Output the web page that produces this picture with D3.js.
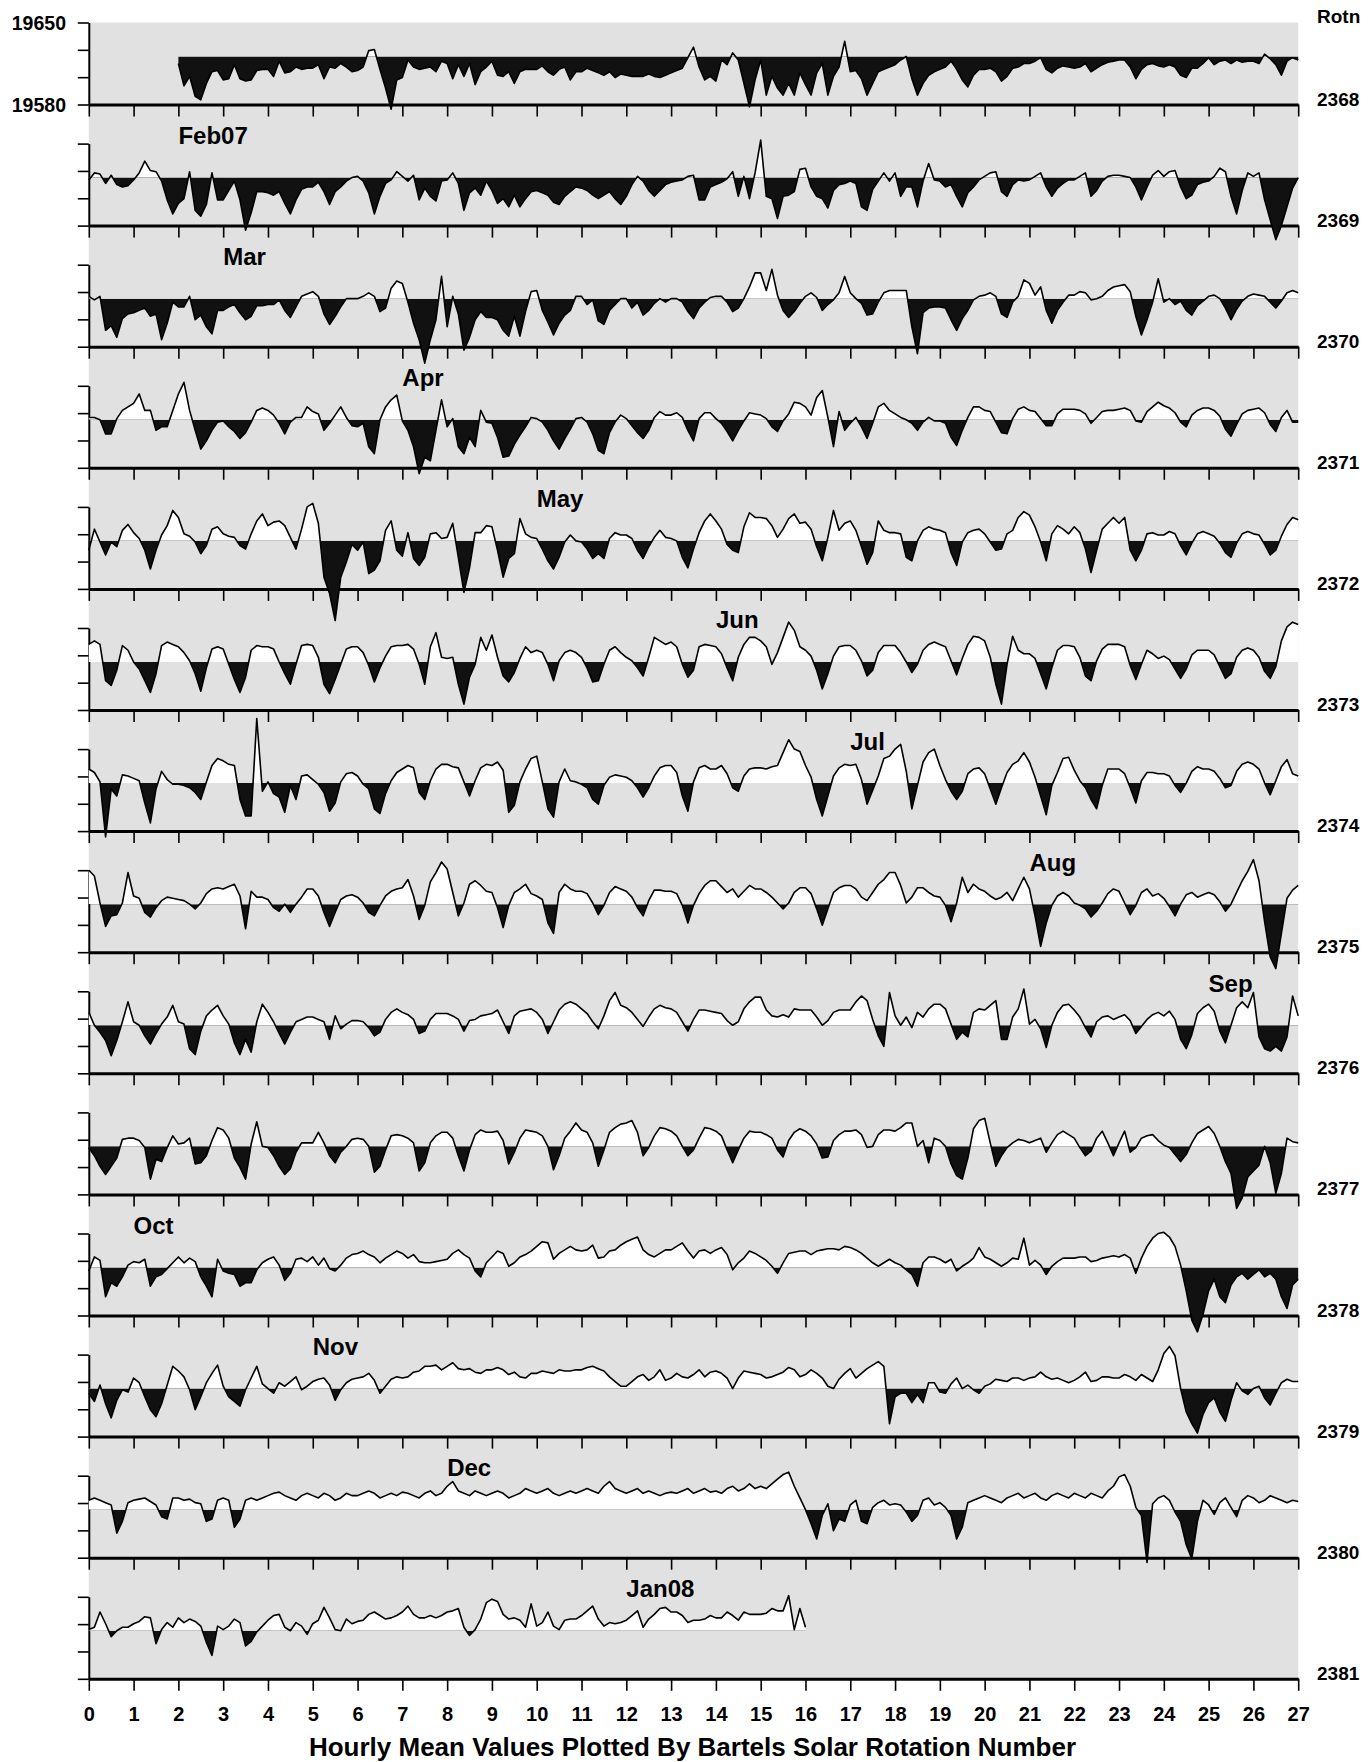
<!DOCTYPE html>
<html>
<head>
<meta charset="utf-8">
<script src="https://cdn.jsdelivr.net/npm/d3@7"></script>
<style>
  body { margin: 0; background: #fff; }
  svg { display: block; }
  text { font-family: "Liberation Sans", Arial, Helvetica, sans-serif; font-weight: bold; fill: #000; }
</style>
</head>
<body>
<svg id="chart" width="1369" height="1762"></svg>
<script>
// hourly H values, read every 3 hours (8 per day), stored as nT above the 19621 reference level
const BASE = 19621;

const rot2368 = [null,null,null,null,null,null,null,null, null,null,null,null,null,null,null,null,
  -6,-25,-17,-34,-37,-23,-13,-12, -20,-19,-7,-19,-21,-20,-12,-11, -11,-17,-4,-14,-13,-9,-11,-10,
  -10,-7,-19,-9,-10,-6,-9,-13, -12,-9,5,6,-11,-27,-45,-20, -18,-3,-9,-11,-10,-9,-13,-4,
  -6,-19,-7,-17,-6,-24,-13,-9, -4,-16,-17,-13,-23,-13,-11,-11, -11,-8,-13,-16,-11,-9,-20,-13,
  -13,-10,-12,-14,-16,-13,-18,-15, -16,-17,-17,-17,-15,-17,-18,-16, -14,-12,-10,-1,8,-9,-20,-17,
  -21,-3,-7,3,-3,-23,-43,-20, -3,-33,-17,-27,-33,-23,-33,-14, -24,-33,-14,-6,-33,-17,-9,13,
  -13,-12,-19,-33,-23,-13,-11,-9, -7,-3,0,-19,-33,-23,-16,-13, -11,-9,-4,-11,-20,-26,-16,-11,
  -11,-10,-13,-21,-17,-10,-9,-6, -6,-4,-1,-11,-14,-10,-8,-9, -10,-9,-6,-13,-10,-7,-5,-4,
  -3,-3,-9,-19,-11,-7,-6,-8, -9,-7,-9,-16,-18,-10,-10,-6, -1,-7,-4,-3,-6,-3,-5,-4,
  -4,-6,2,-2,-7,-16,-4,-1, -3];

const rot2369 = [-2,4,3,-5,2,-6,-8,-7, -2,4,14,6,5,-3,-19,-31, -22,-18,5,-28,-33,-23,4,-19,
  -19,-11,-3,-19,-45,-30,-12,-12, -13,-15,-12,-22,-31,-19,-10,-8, -8,-4,-12,-23,-12,-8,-3,0,
  1,-3,-13,-31,-16,-5,-2,5, 1,-3,2,-19,-9,-16,-20,-3, -2,4,-5,-28,-13,-9,-15,-3,
  -11,-22,-18,-25,-15,-25,-18,-12, -11,-13,-15,-21,-23,-16,-12,-8, -9,-11,-15,-18,-15,-12,-18,-23,
  -16,-6,1,-3,-11,-16,-11,-6, -4,-3,-2,1,2,-19,-19,-8, -6,-4,-1,5,-16,1,-18,4,
  32,-16,-18,-35,-16,-15,-12,7, 8,-8,-16,-18,-26,-11,-6,-5, -3,-5,-25,-28,-10,-3,4,-3,
  4,-16,-8,-8,-25,-3,12,-2, -3,-8,-6,-16,-25,-13,-8,-2, 1,4,5,-12,-16,-6,-2,-3,
  -2,1,4,-8,-16,-9,-5,-2, -2,1,4,-16,-11,-3,1,2, 2,1,0,-8,-19,-8,2,6,
  1,5,6,-8,-18,-15,-6,-4, -3,1,8,5,-16,-31,-11,4, 1,4,-19,-36,-53,-41,-25,-9, 0];

const rot2370 = [2,-1,2,-27,-23,-33,-17,-13, -12,-10,-8,-15,-13,-35,-21,-3, -7,-7,2,-18,-14,-24,-30,-10,
  -10,-7,-5,-12,-18,-15,-6,-6, -5,-5,-1,-10,-16,-7,2,4, 6,2,-13,-22,-15,-7,0,0,
  0,2,5,2,-11,-8,9,15, 13,-3,-21,-35,-55,-35,-18,19, -24,2,-13,-44,-33,-18,-11,-16,
  -16,-18,-27,-32,-15,-32,-11,6, 7,-10,-20,-31,-21,-14,-10,2, 2,-5,-1,-19,-22,-10,-5,0,
  0,-8,-3,-14,-10,-4,0,-3, 0,0,-3,-11,-17,-8,-3,1, 2,2,-3,-11,-8,0,10,22,
  22,7,25,3,-10,-16,-11,-4, 2,5,1,-10,-5,-1,5,19, 5,0,-4,-14,-13,-3,5,7,
  7,7,7,-24,-47,-12,-8,-7, -7,-8,-18,-27,-17,-10,-1,2, 3,5,2,-13,-16,-3,2,16,
  13,3,10,-10,-21,-10,-3,3, 3,6,5,-1,0,2,7,10, 11,12,6,-15,-31,-18,-3,17,
  -3,0,-5,-2,-10,-14,-6,-2, 2,3,0,-8,-18,-9,-2,2, 4,3,2,-3,-8,-2,5,7, 5];

const rot2371 = [2,2,0,-12,-12,1,8,11, 14,22,8,8,-9,-6,-6,8, 22,32,8,-9,-25,-18,-9,-2,
  -1,-6,-10,-16,-11,-2,8,10, 8,4,-3,-12,-2,2,2,11, 7,5,-9,-3,4,11,2,-5,
  -6,-3,-23,-29,0,11,17,21, -1,-9,-23,-46,-32,-35,-9,17, -6,1,-23,-29,-15,-23,8,-2,
  -3,-15,-32,-31,-21,-13,-6,2, 1,-2,-9,-18,-25,-16,-8,1, 2,-2,-12,-26,-29,-11,-2,4,
  1,-5,-11,-16,-9,2,7,4, 4,6,2,-9,-18,1,6,6, 1,-3,-10,-18,-9,-1,6,5,
  4,1,-6,-10,-1,5,15,14, 11,4,19,25,2,-23,7,-9, -3,2,-6,-16,-3,11,14,8,
  5,2,0,-3,-9,-2,2,-1, -1,-3,-15,-22,-9,2,11,11, 8,7,-2,-11,-12,1,9,11,
  8,7,1,-5,-5,5,9,9, 9,8,5,-3,2,7,8,8, 9,10,8,-1,-2,7,11,15,
  12,10,6,-2,-6,4,8,10, 10,8,3,-8,-14,-4,5,8, 9,10,6,-4,-10,2,8,-2, -2];

const rot2372 = [-8,10,-1,-12,-1,-5,9,14, 7,2,-8,-24,-8,5,13,26, 20,6,4,-1,-11,-4,10,12,
  6,4,3,-4,-7,6,17,23, 13,16,17,13,3,-7,10,29, 32,15,-31,-45,-68,-31,-18,-3,
  -8,-1,-28,-25,-17,9,17,-8, -13,7,-15,-21,-14,6,7,2, 3,15,-14,-44,-23,7,7,13,
  12,-8,-31,-15,-11,19,6,3, 2,-7,-17,-24,-14,-1,5,0, -1,-7,-15,-11,-15,2,7,5,
  5,2,-8,-15,-5,3,9,3, 2,0,-14,-23,-7,7,17,23, 17,10,-3,-8,-10,12,24,20,
  20,19,13,3,10,19,23,15, 16,10,-5,-17,3,26,9,15, 17,9,-5,-20,-10,17,9,7,
  7,6,-14,-17,0,9,12,10, 9,7,-10,-21,-1,7,9,10, 6,-1,-8,-7,6,9,20,25,
  22,12,-1,-17,6,13,10,6, 12,7,-7,-27,-8,10,15,20, 15,20,-8,-17,-8,6,7,5,
  5,8,6,-4,-12,-2,6,8, 6,4,-2,-10,-14,-2,6,8, 6,5,-3,-12,-8,4,14,20, 18];

const rot2373 = [15,18,15,-16,-20,-7,14,10, 0,-6,-16,-26,-10,14,17,15, 13,8,1,-10,-25,-5,11,13,
  11,-2,-15,-26,-13,10,14,13, 13,11,0,-10,-19,-2,14,15, 14,4,-19,-27,-15,-2,11,13,
  13,8,-3,-17,-5,5,13,14, 14,15,11,-2,-19,13,25,4, 3,4,-19,-36,-13,-2,21,10,
  23,4,-12,-17,-9,3,13,8, 10,8,-2,-16,1,8,10,8, 4,-5,-17,-16,-2,10,13,8,
  4,1,-5,-12,4,21,18,15, 17,13,-2,-13,-7,13,15,14, 13,7,-5,-16,4,15,21,21,
  18,13,-2,8,21,34,27,13, 10,5,-7,-23,-10,5,13,14, 14,10,1,-12,-7,8,14,14,
  14,8,0,-9,-2,10,15,17, 15,13,1,-11,3,15,22,21, 18,4,-19,-36,-2,22,10,7,
  7,3,-10,-23,-5,10,14,14, 13,4,-12,-16,1,11,15,15, 15,13,-3,-15,-2,10,7,3,
  5,2,-6,-14,-6,6,10,10, 10,6,-4,-14,-10,4,10,12, 10,4,-8,-14,-4,18,30,34, 32];

const rot2374 = [12,9,1,-46,-5,-11,7,6, 4,2,-17,-34,-5,10,3,-1, -1,-2,-4,-8,-14,1,15,21,
  19,16,15,-14,-28,-28,55,-7, 1,-9,-12,-25,-2,-14,6,7, 3,-1,-8,-24,-17,1,8,9,
  6,-1,-5,-22,-26,-9,2,9, 12,15,13,-8,-14,2,12,16, 16,14,13,1,-11,2,13,16,
  15,18,11,-25,-19,1,12,21, 23,1,-22,-29,1,12,2,1, -1,-4,-14,-18,-2,5,7,6,
  5,2,-4,-12,-4,6,13,15, 15,9,-11,-24,1,13,15,12, 12,15,8,-4,-7,6,12,13,
  13,12,14,15,26,37,29,27, 15,5,-14,-28,-11,6,13,16, 15,16,3,-18,-6,6,21,23,
  29,33,10,-22,-2,18,26,29, 15,3,-7,-14,-7,8,12,13, 8,-5,-18,-4,9,16,19,26,
  18,5,-11,-27,-2,9,21,22, 11,2,-4,-14,-22,-2,12,12, 12,8,-4,-17,2,9,9,8,
  8,6,-2,-8,0,10,14,12, 12,10,4,-4,-2,10,16,18, 16,12,0,-10,2,14,20,8, 6];

const rot2375 = [29,24,1,-19,-10,-9,1,27, 7,5,-7,-11,-3,3,6,5, 4,3,0,-4,1,9,13,14,
  13,15,17,7,-21,11,6,6, 4,-3,-6,0,-7,0,6,13, 13,7,-7,-19,-7,4,7,8,
  6,1,-7,-10,-1,7,11,13, 14,21,7,-13,-1,19,27,36, 30,10,-10,1,17,20,16,11,
  10,-3,-20,-1,10,13,17,9, 7,4,-16,-25,10,17,13,11, 11,9,1,-9,-1,10,15,13,
  11,6,-3,-10,3,12,12,11, 11,9,-1,-16,-1,9,16,20, 20,15,10,13,6,11,16,13,
  13,10,6,1,-4,1,10,14, 14,9,-4,-18,-4,10,14,16, 16,13,6,3,10,17,21,27,
  27,16,1,6,14,14,10,7, 6,-1,-15,1,23,10,17,13, 11,7,4,6,10,3,13,23,
  13,-10,-36,-16,-1,7,10,7, 1,-1,-4,-11,-6,1,9,13, 11,1,-9,-1,10,13,7,9,
  5,-2,-10,0,8,10,6,8, 10,8,2,-6,0,10,20,28, 38,20,-15,-45,-55,-25,5,12, 16];

const rot2376 = [11,0,-6,-13,-26,-13,3,20, 3,0,-9,-16,-7,1,7,17, 3,1,-20,-25,-5,8,13,17,
  8,1,-15,-25,-12,-23,3,18, 11,3,-7,-16,-6,3,5,7, 7,5,3,-12,8,-3,1,4,
  4,3,-2,-9,-6,5,11,14, 11,9,5,-7,-5,5,10,10, 10,8,5,-5,4,5,8,9,
  10,13,3,-7,8,12,13,14, 11,5,-7,3,13,18,20,18, 14,10,3,-3,8,21,28,17,
  15,11,5,-1,7,14,17,15, 14,11,3,-5,5,13,13,12, 11,10,4,0,3,14,20,24,
  24,13,8,7,9,7,14,13, 13,13,7,0,4,11,13,13, 13,20,25,21,5,-9,-18,28,
  8,0,7,-2,11,7,14,18, 18,14,1,-12,-6,-10,11,14, 13,17,21,-12,-12,7,14,31,
  1,5,-3,-19,0,11,17,18, 13,7,-2,-10,3,7,8,5, 7,9,4,-7,-1,5,9,11,
  8,12,5,-12,-20,-8,10,15, 18,12,-5,-15,0,15,20,15, 28,-10,-20,-22,-18,-22,-10,25, 8];

const rot2377 = [-1,-8,-17,-24,-17,-10,6,7, 7,5,-1,-28,-11,-13,-1,9, 2,3,7,-15,-14,-8,5,16,
  14,7,-10,-18,-28,2,21,0, -1,-8,-17,-24,-19,-5,3,3, 3,12,3,-8,-14,-5,0,6,
  7,6,0,-22,-17,-3,9,10, 9,7,3,-21,-14,3,9,12, 12,7,-8,-21,-3,10,14,12,
  12,13,5,-15,-5,7,14,13, 12,9,0,-20,-8,7,13,20, 14,12,3,-17,-3,12,16,19,
  20,22,12,-8,-1,9,16,15, 13,9,0,-8,-3,7,16,15, 13,9,-3,-14,-3,7,13,12,
  12,10,7,-3,-9,5,12,15, 13,9,2,-10,-9,5,10,13, 13,14,10,-1,0,10,14,14,
  13,16,20,20,0,5,-14,7, 5,0,-15,-25,-28,-10,15,22, 24,3,-17,-8,-1,3,6,5,
  3,5,7,-5,3,10,13,10, 7,-1,-8,-4,7,13,3,-8, 3,13,-5,-1,7,9,10,5,
  1,-1,-7,-13,-7,3,11,14, 17,11,0,-13,-23,-53,-44,-26, -21,-16,0,-14,-40,-23,7,4, 3];

const rot2378 = [-3,9,6,-25,-13,-16,-8,2, 5,4,7,-16,-8,-6,-1,4, 9,4,8,5,-8,-16,-25,7,
  -3,-5,-6,-16,-13,-13,-2,4, 7,9,2,-11,-5,7,8,5, 9,2,8,-1,-3,2,8,11,
  12,14,11,9,4,8,11,14, 12,8,11,5,4,4,5,6, 7,12,15,11,8,-3,-8,4,
  9,14,12,1,4,9,11,14, 18,22,21,7,12,15,18,15, 14,15,19,8,9,14,15,19,
  22,24,26,15,11,9,12,15, 15,18,21,14,8,14,15,12, 15,17,11,-2,4,8,14,12,
  9,6,1,-5,4,12,13,14, 14,11,14,15,16,16,15,18, 17,15,12,8,4,1,4,7,
  4,2,-2,-6,-16,4,9,9, 7,4,7,-3,1,4,8,17, 9,7,4,1,4,8,7,25,
  2,6,2,-6,1,5,8,8, 8,9,9,5,6,8,9,10, 9,11,8,-5,8,18,25,29,
  30,26,18,2,-20,-45,-55,-40, -20,-10,-25,-30,-15,-8,-5,-10, -6,-2,-8,-5,-10,-25,-35,-15, -10];

const rot2379 = [-4,-11,3,-13,-25,-10,-1,-3, 9,5,-7,-18,-24,-13,3,19, 15,10,-1,-18,-7,5,13,20,
  2,-7,-11,-15,-1,9,19,4, 0,-4,5,2,6,10,-1,2, 6,8,9,3,-10,-1,5,8,
  9,10,13,7,-4,2,8,10, 9,10,14,15,19,19,20,16, 19,22,17,16,17,14,13,16,
  16,18,16,12,14,10,9,13, 13,15,14,13,16,15,15,16, 16,18,19,17,15,10,6,2,
  2,6,10,12,7,10,16,7, 9,13,10,9,12,16,10,14, 15,13,9,0,9,15,14,13,
  12,9,10,12,14,18,16,10, 12,16,13,9,2,0,8,13, 17,9,13,17,20,23,19,-30,
  -7,-4,-4,-12,-5,-12,5,5, -3,-4,4,9,0,3,-1,-4, 2,4,8,7,6,9,9,7,
  9,10,14,10,8,9,7,5, 7,10,14,6,7,10,10,9, 9,12,10,7,12,9,6,16,
  30,36,28,0,-20,-30,-38,-22, -12,-8,-20,-28,-10,5,-2,-5, 0,2,-8,-14,-4,5,8,6, 6];

const rot2380 = [8,10,8,6,4,-20,-10,6, 8,9,10,7,4,-6,-8,10, 10,8,9,6,5,-10,-8,8,
  10,8,-15,-8,8,10,8,10, 12,14,15,12,10,8,12,14, 12,10,14,12,8,10,14,12,
  12,14,16,14,10,12,14,12, 15,14,12,10,14,16,12,14, 20,24,16,14,12,16,14,12,
  14,16,14,10,12,14,18,16, 14,16,18,14,12,14,16,14, 16,18,16,14,20,24,18,16,
  14,16,18,14,16,14,12,14, 15,14,16,18,14,16,18,15, 16,14,18,20,16,18,22,18,
  20,18,22,26,30,32,20,10, 0,-12,-25,-5,5,-18,-8,-10, 4,8,-10,-12,2,6,8,4,
  5,4,-2,-10,-5,8,10,4, 6,2,-5,-25,-15,6,8,10, 12,10,8,6,10,12,14,10,
  12,14,10,8,12,14,12,10, 14,12,10,14,12,10,16,20, 28,30,20,2,-5,-45,5,10,
  12,8,-2,-10,-30,-42,-10,8, 4,-4,6,10,2,-6,8,12, 10,6,8,12,10,8,6,8, 7];

const rot2381 = [1,3,16,6,-5,0,3,3, 6,8,12,11,-11,1,7,3, 11,7,10,8,4,-10,-21,4,
  1,4,10,7,-13,-9,-1,4, 9,13,14,3,0,7,4,-3, 6,9,20,11,1,0,10,6,
  8,9,14,16,13,10,11,13, 16,21,14,11,11,13,11,13, 16,17,19,3,-4,1,10,24,
  27,25,14,10,11,9,3,23, 4,7,16,4,1,9,10,10, 13,17,21,10,4,7,6,7,
  9,13,17,3,10,14,19,20, 16,16,13,7,9,9,10,13, 11,11,16,13,9,16,14,14,
  14,15,19,17,17,30,1,19, 3];

const rotationNumbers = [2368, 2369, 2370, 2371, 2372, 2373, 2374, 2375, 2376, 2377, 2378, 2379, 2380, 2381];
const rotationData = [rot2368, rot2369, rot2370, rot2371, rot2372, rot2373, rot2374,
  rot2375, rot2376, rot2377, rot2378, rot2379, rot2380, rot2381];

// month labels: text, panel row, day of rotation where the month begins
const monthNames = ["Feb07", "Mar", "Apr", "May", "Jun", "Jul", "Aug", "Sep", "Oct", "Nov", "Dec", "Jan08"];
const monthRows = [1, 2, 3, 4, 5, 6, 7, 8, 10, 11, 12, 13];
const monthDays = [2, 3, 7, 10, 14, 17, 21, 25, 1, 5, 8, 12];

const dayTicks = d3.range(0, 28);
const yTickValues = [19580, 19603.33, 19626.67, 19650];
const yLabelValues = [19650, 19580];

const svg = d3.select("#chart");
const width = 1369;

const firstBottom = 104.5;
const rowStep = 121.1;
const panelH = 82;
const samplesPerDay = 8;

const x = d3.scaleLinear().domain([0, 27]).range([88.8, 1298.2]);
// y is local to a panel: 0 at its bottom axis line
const y = d3.scaleLinear().domain([19580, 19650]).range([0, -panelH]);
const base = y(BASE);

// grey page behind all the rows
svg.append("rect")
  .attr("x", x(0)).attr("y", firstBottom - panelH)
  .attr("width", x(27) - x(0))
  .attr("height", firstBottom + rowStep * 13 - (firstBottom - panelH))
  .attr("fill", "#e1e1e1");

// clip above / below the reference level, same local coords for all rows
const defs = svg.append("defs");
defs.append("clipPath").attr("id", "above")
  .append("rect").attr("x", 0).attr("y", -300).attr("width", width).attr("height", 300 + base);
defs.append("clipPath").attr("id", "below")
  .append("rect").attr("x", 0).attr("y", base).attr("width", width).attr("height", 300);

const tx = (d, i) => x(i / samplesPerDay);
const area = d3.area()
  .defined(d => d != null)
  .x(tx)
  .y0(base)
  .y1(d => y(BASE + d));
const line = d3.line()
  .defined(d => d != null)
  .x(tx)
  .y(d => y(BASE + d));

rotationData.forEach((vals, r) => {
  const bottom = firstBottom + rowStep * r;
  const g = svg.append("g").attr("transform", "translate(0," + bottom + ")");

  // bottom axis with day ticks, labels only on the last row
  const ax = d3.axisBottom(x).tickValues(dayTicks).tickSize(12).tickSizeOuter(0).tickPadding(16)
    .tickFormat(r === rotationData.length - 1 ? d3.format("d") : "");
  const axg = g.append("g").call(ax);
  axg.select(".domain").attr("stroke", "#000").attr("stroke-width", 3);
  axg.selectAll(".tick line").attr("stroke", "#000").attr("stroke-width", 1.6);
  axg.selectAll(".tick text").attr("font-size", 20).attr("font-family", null).attr("fill", "#000");

  // left axis, ticks only
  const ay = d3.axisLeft(y).tickValues(yTickValues).tickSize(11).tickSizeOuter(0).tickFormat("");
  const ayg = g.append("g").attr("transform", "translate(" + x(0) + ",0)").call(ay);
  ayg.select(".domain").attr("stroke", "#000").attr("stroke-width", 2);
  ayg.selectAll(".tick line").attr("stroke", "#000").attr("stroke-width", 1.6);

  // white where the trace is above the level, black where below
  g.append("path").datum(vals).attr("d", area).attr("fill", "#fff").attr("clip-path", "url(#above)");
  g.append("path").datum(vals).attr("d", area).attr("fill", "#111").attr("clip-path", "url(#below)");
  g.append("path").datum(vals).attr("d", line)
    .attr("fill", "none").attr("stroke", "#000").attr("stroke-width", 1.6).attr("stroke-linejoin", "round");

  // rotation number on the right
  g.append("text").attr("x", 1317).attr("y", 1)
    .attr("font-size", 19).text(rotationNumbers[r]);
});

// nT labels on the first row
yLabelValues.forEach(v => {
  svg.append("text")
    .attr("x", 66).attr("y", firstBottom + y(v) + 7)
    .attr("text-anchor", "end").attr("font-size", 19.5)
    .text(v);
});

svg.append("text").attr("x", 1317).attr("y", 23).attr("font-size", 19).text("Rotn");

// month names above the row where each month starts
monthNames.forEach((m, i) => {
  const bottom = firstBottom + rowStep * monthRows[i];
  svg.append("text")
    .attr("x", x(monthDays[i])).attr("y", bottom - 81.6)
    .attr("font-size", 24).text(m);
});

svg.append("text")
  .attr("x", (x(0) + x(27)) / 2 - 1).attr("y", 1756)
  .attr("text-anchor", "middle").attr("font-size", 26)
  .text("Hourly Mean Values Plotted By Bartels Solar Rotation Number");
</script>
</body>
</html>
